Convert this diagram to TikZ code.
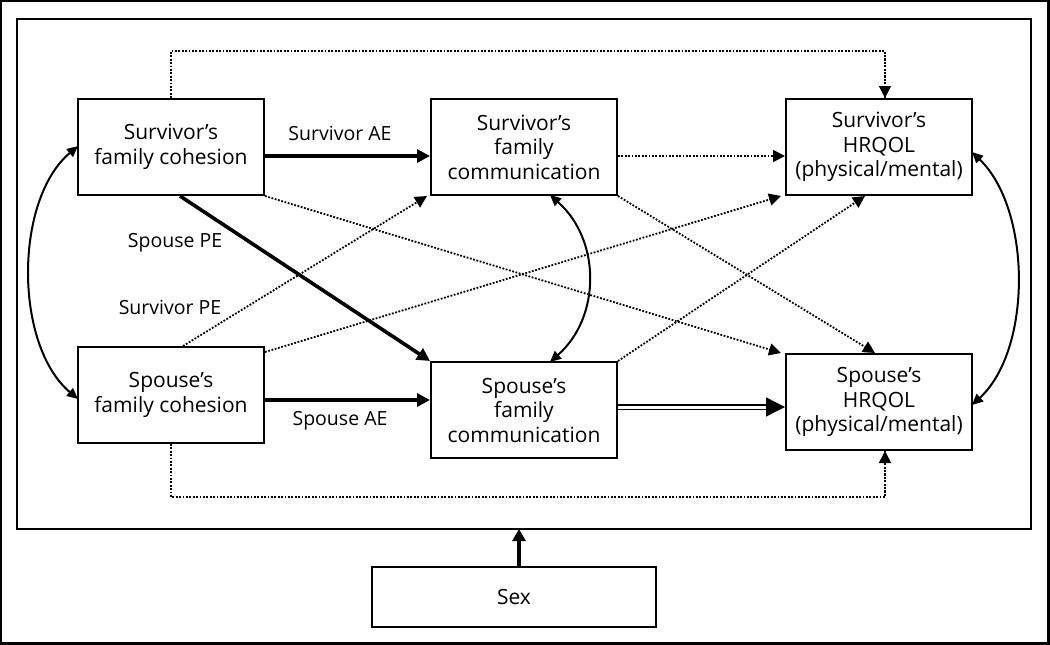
\documentclass[tikz,border=0pt]{standalone}
\usepackage{fontspec}
\setmainfont{Open Sans}
\usetikzlibrary{arrows.meta,calc}
\begin{document}
\begin{tikzpicture}[x=1pt,y=-1pt,
  box/.style={draw,line width=2pt,minimum width=186pt,minimum height=96pt,inner sep=0pt,align=center,font=\fontsize{21}{24.5}\selectfont},
  lbl/.style={font=\fontsize{19.5}{22}\selectfont,inner sep=0pt},
  thickarr/.style={line width=3.6pt,-{Triangle[length=13pt,width=13pt]}},
  dotarr/.style={line width=1.8pt,dash pattern=on 1.8pt off 1.6pt,-{Triangle[length=12pt,width=12pt]}},
  dotline/.style={line width=1.8pt,dash pattern=on 1.8pt off 1.6pt},
  curvarr/.style={line width=2pt,{Triangle[length=11pt,width=10pt]}-{Triangle[length=11pt,width=10pt]}},
  dblarr/.style={double,double distance=3pt,line width=1.4pt,-{Triangle[length=19pt,width=19pt]}}
]
\useasboundingbox (0,0) rectangle (1050,645);
\draw[line width=2.2pt] (1.1,1.1) rectangle (1048.5,643.5);
\draw[line width=2pt] (17,19) rectangle (1031,529);

\node[box] (sc) at (171,147) {Survivor’s\\family cohesion};
\node[box] (sm) at (524,147) {Survivor’s\\family\\communication};
\node[box] (sh) at (879,147) {Survivor’s\\HRQOL\\(physical/mental)};
\node[box] (pc) at (171,395) {Spouse’s\\family cohesion};
\node[box] (pm) at (524,410) {Spouse’s\\family\\communication};
\node[box] (ph) at (879,402) {Spouse’s\\HRQOL\\(physical/mental)};
\node[box,minimum width=284pt,minimum height=60pt] (sex) at (514,597) {Sex};

\coordinate (innerbot) at (519,529);
\draw[line width=4pt,-{Triangle[length=12pt,width=13pt]}] (sex.north -| innerbot) -- (innerbot);

% labels
\node[lbl] (lsae) at (340,133) {Survivor AE};
\node[lbl] (lpae) at (340,421) {Spouse AE};
\node[lbl] (lppe) at (175,243) {Spouse PE};
\node[lbl] (lspe) at (170,307) {Survivor PE};

% thick arrows
\draw[thickarr] (sc.east |- 0,156) -- (sm.west |- 0,156);
\draw[thickarr] (pc.east |- 0,400) -- (pm.west |- 0,400);
\draw[thickarr] ([xshift=9pt]sc.south) -- (pm.north west);

% dotted paths
\draw[dotline] (sc.north) -- (sc.north |- 0,51) -| ([xshift=6pt]sh.north);
\draw[dotarr] ([xshift=6pt]sh.north |- 0,52) -- ([xshift=6pt]sh.north);
\draw[dotline] (pc.south) -- (pc.south |- 0,497) -| ([xshift=6pt]ph.south);
\draw[dotarr] ([xshift=6pt]ph.south |- 0,496) -- ([xshift=6pt]ph.south);

\draw[dotarr] (sm.east |- 0,156) -- (sh.west |- 0,156);
\draw[dotarr] (sc.south east) -- ([xshift=-4pt]ph.north west);
\draw[dotarr] (sm.south east) -- ([xshift=-4pt]ph.north);
\draw[dotarr] ([xshift=12pt]pc.north) -- ([xshift=-3pt]sm.south west);
\draw[dotarr] ([yshift=-6pt]pc.north east) -- ([xshift=-4pt]sh.south west);
\draw[dotarr] (pm.north east) -- ([xshift=-14pt]sh.south);

% double
\draw[dblarr] (pm.east |- 0,407) -- (ph.west |- 0,407);

% curved
\draw[curvarr] (78,146) .. controls (14,200) and (14,345) .. (78,399);
\draw[curvarr] (550,195) .. controls (601,240) and (601,317) .. (550,362);
\draw[curvarr] (972,152) .. controls (1032,210) and (1032,350) .. (972,405);
\end{tikzpicture}
\end{document}
